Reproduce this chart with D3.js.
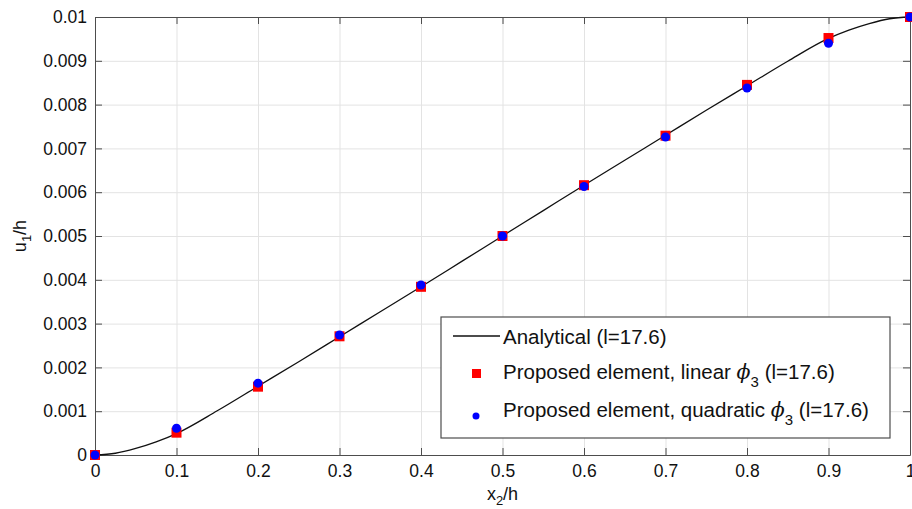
<!DOCTYPE html>
<html lang="en">
	<head>
		<meta charset="utf-8">
		<title>u1/h vs x2/h</title>
		<script src="https://d3js.org/d3.v7.min.js"></script>
		<style>
			body {
				margin: 0;
				background: #ffffff;
			}
			text {
				font-family: "Liberation Sans", Arial, Helvetica, sans-serif;
				fill: #111111;
			}
			.grid line {
				stroke: #e3e3e3;
				stroke-width: 1;
			}
			.grid path {
				display: none;
			}
			.axis path, .axis line {
				stroke: #4d4d4d;
			}
		</style>
	</head>
	<body>
		<div id="chart"></div>
		<script type="text/javascript">
			// values
			var xTicks = [0, 0.1, 0.2, 0.3, 0.4, 0.5, 0.6, 0.7, 0.8, 0.9, 1];
			var yTicks = [0, 0.001, 0.002, 0.003, 0.004, 0.005, 0.006, 0.007, 0.008, 0.009, 0.01];
			var xNodes = [0, 0.1, 0.2, 0.3, 0.4, 0.5, 0.6, 0.7, 0.8, 0.9, 1];
			var linearPhi = [0, 0.00051, 0.00156, 0.00271, 0.00384, 0.005, 0.00616, 0.00729, 0.00845, 0.00952, 0.01];
			var quadPhi = [0, 0.00061, 0.00164, 0.00274, 0.00388, 0.005, 0.00613, 0.00726, 0.00838, 0.0094, 0.01];
			var analyticX = [0, 0.025, 0.05, 0.075, 0.1, 0.15, 0.2, 0.25, 0.3, 0.35, 0.4, 0.45, 0.5, 0.55, 0.6, 0.65, 0.7, 0.75, 0.8, 0.85, 0.9, 0.925, 0.95, 0.975, 1];
			var analyticU = [0, 0.00004, 0.00015, 0.0003, 0.00049, 0.00101, 0.00157, 0.00213, 0.0027, 0.00327, 0.00384, 0.00442, 0.005, 0.00558, 0.00616, 0.00673, 0.0073, 0.00787, 0.00843, 0.00899, 0.00951, 0.0097, 0.00985, 0.00996, 0.01];
			var legendLabels = ["Analytical (l=17.6)", "Proposed element, linear ", "Proposed element, quadratic "];

			var w = 912;
			var h = 509;
			var pLeft = 95, pRight = 910, pTop = 17, pBottom = 455;

			var svg = d3.select("#chart").append("svg").attr("width", w).attr("height", h);

			var xScale = d3.scaleLinear().domain([0, 1]).range([pLeft, pRight]);
			var yScale = d3.scaleLinear().domain([0, 0.01]).range([pBottom, pTop]);

			// grid
			svg.append("g").attr("class", "grid").attr("transform", "translate(0," + pBottom + ")")
				.call(d3.axisBottom(xScale).tickValues(xTicks).tickSize(-(pBottom - pTop)).tickFormat(""));
			svg.append("g").attr("class", "grid").attr("transform", "translate(" + pLeft + ",0)")
				.call(d3.axisLeft(yScale).tickValues(yTicks).tickSize(-(pRight - pLeft)).tickFormat(""));

			// axes, ticks pointing inward like matlab
			var fmt = function(d) { return d3.format("")(+d.toFixed(3)); };
			svg.append("g").attr("class", "axis").attr("transform", "translate(0," + pBottom + ")")
				.call(d3.axisBottom(xScale).tickValues(xTicks).tickSizeInner(-7).tickSizeOuter(0).tickPadding(10).tickFormat(fmt));
			svg.append("g").attr("class", "axis").attr("transform", "translate(" + pLeft + ",0)")
				.call(d3.axisLeft(yScale).tickValues(yTicks).tickSizeInner(-7).tickSizeOuter(0).tickPadding(8).tickFormat(fmt));
			svg.append("g").attr("class", "axis").attr("transform", "translate(0," + pTop + ")")
				.call(d3.axisTop(xScale).tickValues(xTicks).tickSizeInner(-7).tickSizeOuter(0).tickFormat(""));
			svg.append("g").attr("class", "axis").attr("transform", "translate(" + pRight + ",0)")
				.call(d3.axisRight(yScale).tickValues(yTicks).tickSizeInner(-7).tickSizeOuter(0).tickFormat(""));
			svg.selectAll(".axis text").style("font-size", "17.5px").style("font-family", "'Liberation Sans', Arial, sans-serif").attr("fill", "#111");

			// analytical curve
			var line = d3.line().x(function(d, i) { return xScale(analyticX[i]); }).y(function(d) { return yScale(d); }).curve(d3.curveMonotoneX);
			svg.append("path").datum(analyticU).attr("d", line).attr("fill", "none").attr("stroke", "#111").attr("stroke-width", 1.3);

			// markers
			svg.selectAll("rect.lin").data(linearPhi).enter().append("rect").attr("class", "lin")
				.attr("x", function(d, i) { return xScale(xNodes[i]) - 5; })
				.attr("y", function(d) { return yScale(d) - 5; })
				.attr("width", 10).attr("height", 10).attr("fill", "#ff0000");
			svg.selectAll("circle.quad").data(quadPhi).enter().append("circle").attr("class", "quad")
				.attr("cx", function(d, i) { return xScale(xNodes[i]); })
				.attr("cy", function(d) { return yScale(d); })
				.attr("r", 4.5).attr("fill", "#0000ff");

			// axis labels
			var xl = svg.append("text").attr("x", (pLeft + pRight) / 2).attr("y", 500).attr("text-anchor", "middle").style("font-size", "18px");
			xl.append("tspan").text("x");
			xl.append("tspan").attr("dy", 5).style("font-size", "13px").text("2");
			xl.append("tspan").attr("dy", -5).text("/h");
			var yl = svg.append("text").attr("transform", "translate(26," + ((pTop + pBottom) / 2) + ") rotate(-90)").attr("text-anchor", "middle").style("font-size", "18px");
			yl.append("tspan").text("u");
			yl.append("tspan").attr("dy", 5).style("font-size", "13px").text("1");
			yl.append("tspan").attr("dy", -5).text("/h");

			// legend
			var lg = svg.append("g").attr("class", "legend");
			lg.append("rect").attr("x", 441).attr("y", 317).attr("width", 449).attr("height", 121)
				.attr("fill", "#ffffff").attr("stroke", "#4d4d4d").attr("stroke-width", 1.2);
			var rowY = [337, 372, 410];
			lg.append("line").attr("x1", 453).attr("x2", 500).attr("y1", rowY[0] - 1).attr("y2", rowY[0] - 1).attr("stroke", "#111").attr("stroke-width", 1.3);
			lg.append("rect").attr("x", 472).attr("y", rowY[1] - 3).attr("width", 9).attr("height", 9).attr("fill", "#ff0000");
			lg.append("circle").attr("cx", 476).attr("cy", rowY[2] + 6).attr("r", 3.5).attr("fill", "#0000ff");
			legendLabels.forEach(function(lab, i) {
				var t = lg.append("text").attr("x", 503).attr("y", rowY[i] + 7).style("font-size", "20.5px");
				t.append("tspan").text(lab);
				if (i > 0) {
					t.append("tspan").style("font-style", "italic").style("font-family", "'DejaVu Serif', serif").text("\u03D5");
					t.append("tspan").attr("dy", 8).style("font-size", "15px").text("3");
					t.append("tspan").attr("dy", -8).text(" (l=17.6)");
				}
			});
		</script>
	</body>
</html>
